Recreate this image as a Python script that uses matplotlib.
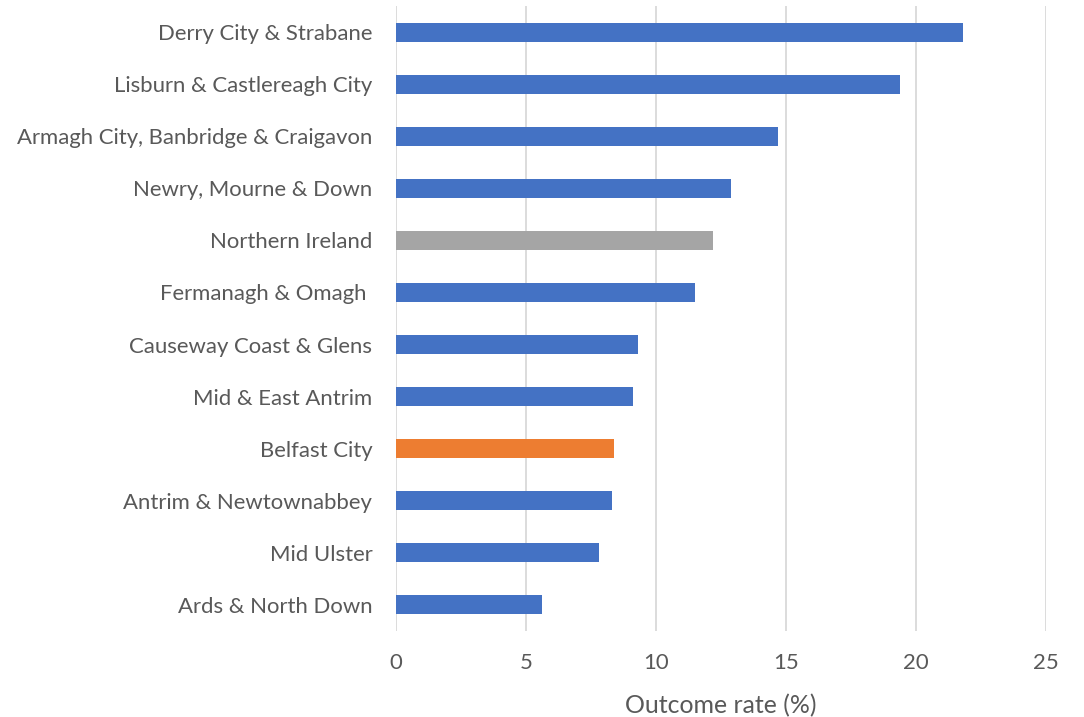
import matplotlib
matplotlib.use("Agg")
import matplotlib.pyplot as plt

areas = ["Derry City & Strabane", "Lisburn & Castlereagh City",
         "Armagh City, Banbridge & Craigavon", "Newry, Mourne & Down",
         "Northern Ireland", "Fermanagh & Omagh ", "Causeway Coast & Glens",
         "Mid & East Antrim", "Belfast City", "Antrim & Newtownabbey",
         "Mid Ulster", "Ards & North Down"]
rates = [21.8, 19.4, 14.7, 12.9, 12.2, 11.5, 9.3, 9.1, 8.4, 8.3, 7.8, 5.6]

BLUE = "#4472C4"
ORANGE = "#ED7D31"
GREY = "#A5A5A5"
TXT = "#595959"

colours = []
for a in areas:
    if a == "Northern Ireland":
        colours.append(GREY)
    elif a == "Belfast City":
        colours.append(ORANGE)
    else:
        colours.append(BLUE)

plt.rcParams['font.family'] = ['Lato', 'DejaVu Sans']

fig = plt.figure(figsize=(10.84, 7.17), dpi=100)
ax = fig.add_axes([0.3653, 0.12, 0.5997, 0.8716])

ypos = list(range(len(areas)))
ax.barh(ypos, rates, height=0.365, color=colours, zorder=3)
ax.set_ylim(len(areas) - 0.5, -0.5)
ax.set_xlim(0, 25)
ax.set_xticks([0, 5, 10, 15, 20, 25])
ax.set_yticks(ypos)
ax.set_yticklabels(areas)

ax.grid(axis="x", color="#D9D9D9", linewidth=1.3, zorder=0)
for s in ax.spines.values():
    s.set_visible(False)
ax.tick_params(axis="both", length=0, colors=TXT, labelsize=15.9)
ax.tick_params(axis="y", pad=17)
ax.tick_params(axis="x", pad=16)
ax.set_xlabel("Outcome rate (%)", color=TXT, fontsize=17.9, labelpad=15)

fig.savefig("out.png", dpi=100)
